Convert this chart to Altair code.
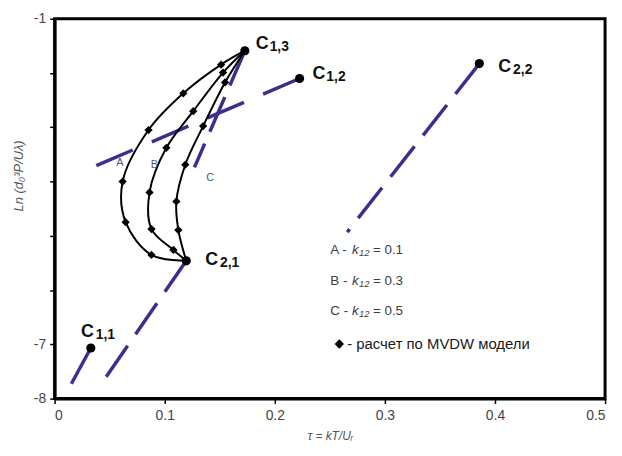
import altair as alt
import pandas as pd

PURPLE = "#3b2e8e"
FONT = "Liberation Sans"

# ---------------- data ----------------
# critical points C_{i,j}
crit_sub = ["1,1", "2,1", "1,2", "2,2", "1,3"]
crit_x = [0.0329, 0.1196, 0.2225, 0.3858, 0.1728]
crit_y = [-7.068, -5.461, -2.101, -1.827, -1.590]

# dashed coexistence lines (first point = critical point)
seg_id = ["A", "C", "22", "21", "11"]
seg_x0 = [0.2225, 0.1728, 0.3858, 0.1196, 0.0329]
seg_y0 = [-2.101, -1.590, -1.827, -5.461, -7.068]
seg_x1 = [0.0357, 0.1270, 0.2658, 0.0456, 0.0152]
seg_y1 = [-3.726, -3.740, -4.932, -7.634, -7.726]

# MVDW curves between C1,3 and C2,1 (interior diamond points)
curveA_x = [0.1512, 0.1169, 0.0853, 0.0618, 0.0645, 0.0880]
curveA_y = [-1.846, -2.375, -3.051, -4.000, -4.749, -5.352]
curveB_x = [0.1530, 0.1259, 0.1015, 0.0862, 0.0880, 0.1079]
curveB_y = [-1.992, -2.704, -3.379, -4.201, -4.877, -5.260]
curveC_x = [0.1548, 0.1349, 0.1187, 0.1106, 0.1124]
curveC_y = [-2.174, -2.978, -3.690, -4.366, -4.895]

# curve letter labels
clbl_text = ["A", "B", "C"]
clbl_x = [0.0592, 0.0907, 0.1413]
clbl_y = [-3.657, -3.690, -3.936]

# legend block
leg_keys = ["A -", "B -", "C -"]
leg_vals = ["= 0.1", "= 0.3", "= 0.5"]
leg_note = "- расчет по MVDW модели"

# axis ticks
x_ticks = [0, 0.1, 0.2, 0.3, 0.4, 0.5]
x_tick_labels = ["0", "0.1", "0.2", "0.3", "0.4", "0.5"]
y_ticks = [-8, -7, -6, -5, -4, -3, -2, -1]
y_tick_labels = ["-8", "-7", "", "", "", "", "", "-1"]

# ---------------- helpers ----------------
def label_expr(vals, labels):
    expr = "''"
    for v, l in reversed(list(zip(vals, labels))):
        expr = f"abs(datum.value - ({v})) < 1e-6 ? '{l}' : ({expr})"
    return expr

pts = pd.DataFrame({"x": crit_x, "y": crit_y, "sub": crit_sub})

seg_rows = []
for sid, x0, y0, x1, y1 in zip(seg_id, seg_x0, seg_y0, seg_x1, seg_y1):
    seg_rows.append({"seg": sid, "o": 0, "x": x0, "y": y0})
    seg_rows.append({"seg": sid, "o": 1, "x": x1, "y": y1})
segs = pd.DataFrame(seg_rows)
dash_patterns = [[40, 21], [38, 13], [39, 14], [38, 14], [41, 14]]

c13x, c13y = crit_x[4], crit_y[4]
c21x, c21y = crit_x[1], crit_y[1]
curve_rows = []
for name, xs, ys in [("A", curveA_x, curveA_y), ("B", curveB_x, curveB_y), ("C", curveC_x, curveC_y)]:
    allx = [c13x] + xs + [c21x]
    ally = [c13y] + ys + [c21y]
    n = len(allx)
    for i, (xv, yv) in enumerate(zip(allx, ally)):
        curve_rows.append({"curve": name, "o": i, "x": xv, "y": yv, "inner": 0 < i < n - 1})
curves = pd.DataFrame(curve_rows)

x_scale = alt.Scale(domain=[0, 0.5], nice=False, zero=False)
y_scale = alt.Scale(domain=[-8, -1], nice=False, zero=False)

x_axis = alt.Axis(
    values=x_ticks, labelExpr=label_expr(x_ticks, x_tick_labels), grid=False,
    title="τ = kT/Uᵣ", titleFontStyle="italic", titleFontWeight="normal", titleFontSize=12,
    titleColor="#555555", titleFont=FONT, titlePadding=8,
    labelFont=FONT, labelFontSize=14, labelColor="#444444", labelPadding=5,
    tickColor="black", tickSize=5, tickWidth=1.5,
    domainColor="black", domainWidth=3,
)
y_axis = alt.Axis(
    values=y_ticks, labelExpr=label_expr(y_ticks, y_tick_labels), grid=False,
    title="Ln (d₀³P/Uλ)", titleFontStyle="italic", titleFontWeight="normal", titleFontSize=13,
    titleColor="#555555", titleFont=FONT, titleX=-36, titleY=158, titleAngle=270,
    titleAlign="center", titleBaseline="middle",
    labelFont=FONT, labelFontSize=14, labelColor="#444444", labelPadding=4,
    tickColor="black", tickSize=5, tickWidth=1.5,
    domainColor="black", domainWidth=3,
)

X = alt.X("x:Q", scale=x_scale, axis=x_axis)
Y = alt.Y("y:Q", scale=y_scale, axis=y_axis)

layers = []

# dashed purple lines
layers.append(
    alt.Chart(segs).mark_line(strokeWidth=3.5, color=PURPLE, strokeCap="butt").encode(
        x=X, y=Y, detail="seg:N", order="o:Q",
        strokeDash=alt.StrokeDash("seg:N", scale=alt.Scale(domain=seg_id, range=dash_patterns), legend=None),
    )
)

# black MVDW curves
layers.append(
    alt.Chart(curves).mark_line(interpolate="catmull-rom", color="black", strokeWidth=2).encode(
        x=X, y=Y, detail="curve:N", order="o:Q"
    )
)
layers.append(
    alt.Chart(curves).transform_filter("datum.inner").mark_point(
        shape="diamond", filled=True, color="black", size=70, opacity=1
    ).encode(x=X, y=Y)
)

# critical points
layers.append(
    alt.Chart(pts).mark_circle(size=85, color="black", opacity=1).encode(x=X, y=Y)
)

# critical point labels: "C" + subscript
c_offsets = {
    "1,1": (-10, -11, 5, -9),
    "2,1": (19, 4, 34, 6),
    "1,2": (13, 1, 27, 3),
    "2,2": (19, 8, 34, 10),
    "1,3": (11, -2, 25, 0),
}
for sub, xv, yv in zip(crit_sub, crit_x, crit_y):
    dx, dy, sdx, sdy = c_offsets[sub]
    d = pd.DataFrame({"x": [xv], "y": [yv], "c": ["C"], "s": [sub]})
    layers.append(
        alt.Chart(d).mark_text(
            align="left", baseline="alphabetic", dx=dx, dy=dy, fontSize=18,
            font=FONT, fontWeight="bold", color="#111111"
        ).encode(x=X, y=Y, text="c:N")
    )
    layers.append(
        alt.Chart(d).mark_text(
            align="left", baseline="alphabetic", dx=sdx, dy=sdy, fontSize=14,
            font=FONT, fontWeight="bold", color="#111111"
        ).encode(x=X, y=Y, text="s:N")
    )

# curve letters A, B, C
layers.append(
    alt.Chart(pd.DataFrame({"x": clbl_x, "y": clbl_y, "t": clbl_text})).mark_text(
        fontSize=11, font=FONT, color="#4d5b7c", align="center", baseline="middle"
    ).encode(x=X, y=Y, text="t:N")
)

# legend block (anchored in data coordinates)
leg_x = 0.2504
leg_rows_y = [-5.26, -5.827, -6.393]
note_y = -6.995
note_x = 0.2586
leg = pd.DataFrame({"x": [leg_x] * 3, "y": leg_rows_y, "key": leg_keys, "val": leg_vals,
                    "k": ["k"] * 3, "n": ["12"] * 3})
txt = dict(align="left", baseline="middle", font=FONT, color="#404040")
layers.append(alt.Chart(leg).mark_text(fontSize=13.5, **txt).encode(x=X, y=Y, text="key:N"))
layers.append(alt.Chart(leg).mark_text(fontSize=13.5, fontStyle="italic", dx=22, **txt).encode(x=X, y=Y, text="k:N"))
layers.append(alt.Chart(leg).mark_text(fontSize=9.5, fontStyle="italic", dx=29, dy=3, **txt).encode(x=X, y=Y, text="n:N"))
layers.append(alt.Chart(leg).mark_text(fontSize=13.5, dx=43, **txt).encode(x=X, y=Y, text="val:N"))

note = pd.DataFrame({"x": [note_x], "y": [note_y], "t": [leg_note]})
layers.append(
    alt.Chart(note).mark_point(shape="diamond", filled=True, color="black", size=90, opacity=1).encode(x=X, y=Y)
)
layers.append(
    alt.Chart(note).mark_text(align="left", baseline="middle", dx=8, fontSize=15, font=FONT, color="#1a1a1a").encode(
        x=X, y=Y, text="t:N"
    )
)

chart = alt.layer(*layers).properties(
    width=555, height=383,
    autosize=alt.AutoSizeParams(type="none"),
    padding={"left": 47, "top": 9, "right": 9, "bottom": 48},
    background="white",
).configure_view(stroke="black", strokeWidth=3)

chart.save("out.html", embed_options={"renderer": "svg", "actions": False})
